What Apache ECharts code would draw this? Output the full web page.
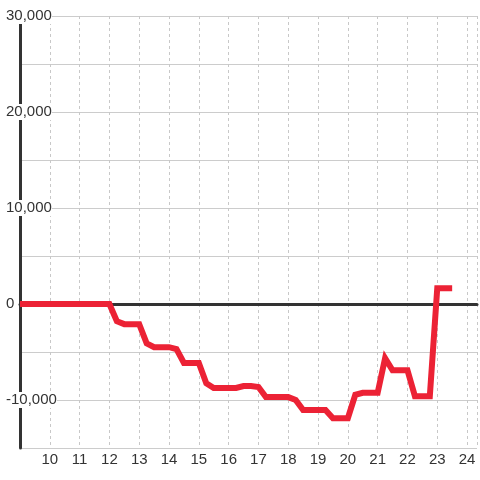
<!DOCTYPE html>
<html>
<head>
<meta charset="utf-8">
<script src="https://cdn.jsdelivr.net/npm/echarts@6/dist/echarts.min.js"></script>
<style>html,body{margin:0;padding:0;background:#fff}#c{width:480px;height:480px}</style>
</head>
<body>
<div id="c"></div>
<script>
// time of day (hours), sampled every 15 minutes
const hours = [9, 9.25, 9.5, 9.75, 10, 10.25, 10.5, 10.75, 11, 11.25, 11.5, 11.75, 12,
  12.25, 12.5, 12.75, 13, 13.25, 13.5, 13.75, 14, 14.25, 14.5, 14.75, 15, 15.25, 15.5, 15.75, 16,
  16.25, 16.5, 16.75, 17, 17.25, 17.5, 17.75, 18, 18.25, 18.5, 18.75, 19, 19.25, 19.5, 19.75, 20,
  20.25, 20.5, 20.75, 21, 21.25, 21.5, 21.75, 22, 22.25, 22.5, 22.75, 23, 23.25, 23.5];
const values = [0, 0, 0, 0, 0, 0, 0, 0, 0, 0, 0, 0, 0,
  -1800, -2100, -2100, -2100, -4100, -4500, -4500, -4500, -4700, -6150, -6150, -6150, -8250, -8750, -8750, -8750,
  -8750, -8550, -8550, -8650, -9700, -9700, -9700, -9700, -10000, -11050, -11050, -11050, -11050, -11900, -11900, -11900,
  -9450, -9250, -9250, -9250, -5650, -6900, -6900, -6900, -9600, -9600, -9600, 1650, 1650, 1650];
const yTickLabels = [-10000, 0, 10000, 20000, 30000];
const xTickLabels = [10, 11, 12, 13, 14, 15, 16, 17, 18, 19, 20, 21, 22, 23, 24];

const fmt = v => v.toLocaleString('en-US');
const chart = echarts.init(document.getElementById('c'), null, {renderer: 'canvas'});
const font = 'Liberation Sans';
chart.setOption({
  animation: false,
  backgroundColor: '#fff',
  grid: {left: 20, right: 0, top: 16, bottom: 32, containLabel: false},
  xAxis: [{
    // zero baseline
    type: 'value', min: 9, max: 24 + 1/3, interval: 1,
    axisLine: {show: true, onZero: true, lineStyle: {color: '#333', width: 3}},
    axisTick: {show: false}, axisLabel: {show: false}, splitLine: {show: false}
  }, {
    type: 'value', min: 9, max: 24 + 1/3, interval: 1, position: 'bottom',
    axisLine: {show: false, onZero: false},
    axisTick: {show: false},
    axisLabel: {
      margin: 4, fontSize: 15, color: '#333', fontFamily: font,
      formatter: v => xTickLabels.includes(v) ? String(v) : ''
    },
    splitLine: {show: true, lineStyle: {color: '#c8c8c8', type: [3, 3], width: 1}}
  }],
  yAxis: {
    type: 'value', min: -15000, max: 30000, interval: 5000,
    axisLine: {show: true, onZero: false, lineStyle: {color: '#333', width: 3}},
    axisTick: {show: false},
    axisLabel: {
      align: 'left', margin: 14, fontSize: 15, color: '#333', fontFamily: font,
      backgroundColor: '#fff', lineHeight: 16,
      formatter: v => yTickLabels.includes(v) ? fmt(v) : ''
    },
    splitLine: {show: true, lineStyle: {color: '#cccccc', width: 1}}
  },
  series: [{
    type: 'line', xAxisIndex: 1,
    data: hours.map((h, i) => [h, values[i]]),
    showSymbol: false, symbol: 'none',
    lineStyle: {color: '#ec2235', width: 6, join: 'miter'},
    z: 3
  }]
});
</script>
</body>
</html>
